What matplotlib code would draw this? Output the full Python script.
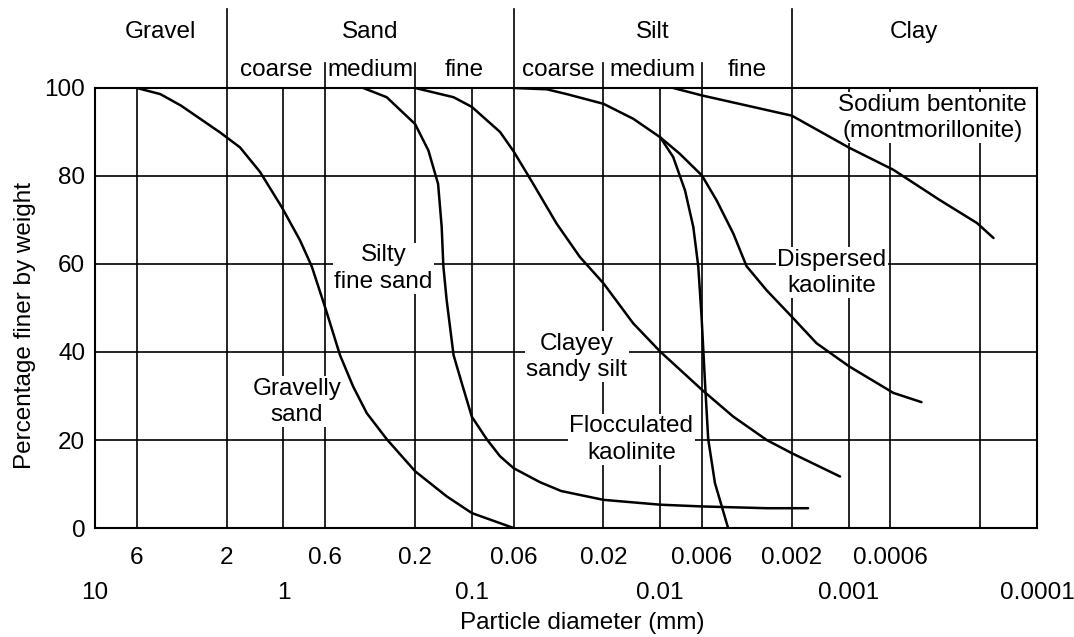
import matplotlib.pyplot as plt

plt.rcParams['font.family'] = ['Liberation Sans', 'DejaVu Sans']
plt.rcParams['font.size'] = 17.5

# axis ticks (particle diameter in mm, percent finer)
size_major = [10, 1, 0.1, 0.01, 0.001, 0.0001]
size_major_labels = ['10', '1', '0.1', '0.01', '0.001', '0.0001']
size_minor = [6, 2, 0.6, 0.2, 0.06, 0.02, 0.006, 0.002, 0.0006, 0.0002]
size_minor_labels = ['6', '2', '0.6', '0.2', '0.06', '0.02', '0.006', '0.002', '0.0006', '']
pct_ticks = [0, 20, 40, 60, 80, 100]

# soil classes along the top
classes = ['Gravel', 'Sand', 'Silt', 'Clay']
class_bounds = [10, 2, 0.06, 0.002, 0.0001]
sub_names = ['coarse', 'medium', 'fine', 'coarse', 'medium', 'fine']
sub_bounds = [2, 0.6, 0.2, 0.06, 0.02, 0.006, 0.002]

# grading curves
gravelly_d = [6, 4.5, 3.5, 2.17, 1.70, 1.33, 1.02, 0.817, 0.708, 0.594, 0.501, 0.426,
              0.361, 0.283, 0.2, 0.136, 0.1, 0.06]
gravelly_p = [100, 98.6, 96, 89.9, 86.5, 80.9, 72.9, 65.4, 59.5, 49.5, 39.3, 32.1,
              26.1, 20.2, 12.9, 7.2, 3.4, 0]

silty_d = [0.377, 0.283, 0.2, 0.170, 0.151, 0.1445, 0.1416, 0.136, 0.125, 0.113, 0.1,
           0.0834, 0.0708, 0.06, 0.0434, 0.0335, 0.02, 0.01, 0.006, 0.00272, 0.00164]
silty_p = [100, 97.9, 91.8, 85.8, 78.2, 68.4, 59.5, 51.8, 39.3, 32.9, 25.3,
           20.2, 16.3, 13.6, 10.4, 8.4, 6.4, 5.3, 4.9, 4.5, 4.5]

clayey_d = [0.2, 0.125, 0.1, 0.0708, 0.06, 0.0472, 0.0355, 0.0267, 0.02, 0.0139, 0.01,
            0.006, 0.00409, 0.00272, 0.002, 0.00111]
clayey_p = [100, 97.9, 95.7, 90, 85.6, 78.2, 69.2, 61.6, 55.6, 46.5, 40.1,
            31.4, 25.3, 20, 17, 11.7]

dispersed_d = [0.06, 0.04, 0.0313, 0.02, 0.0139, 0.01, 0.00785, 0.006, 0.00501, 0.00409,
               0.00348, 0.00272, 0.002, 0.00148, 0.00111, 0.00099, 0.000578, 0.00041]
dispersed_p = [100, 99.7, 98.6, 96.4, 93, 88.8, 85, 80.1, 74.4, 66.9,
               59.5, 54, 48, 42, 38.2, 36.7, 30.7, 28.6]

flocc_d = [0.01, 0.00853, 0.00738, 0.00667, 0.00628, 0.00603, 0.00578, 0.00556, 0.00512, 0.00436]
flocc_p = [88.8, 84.3, 76.7, 68.4, 59.5, 48, 32.9, 20.2, 10.2, 0]

bentonite_d = [0.00853, 0.006, 0.002, 0.00099, 0.000578, 0.00033, 0.000208, 0.00017]
bentonite_p = [100, 98.3, 93.7, 86.4, 81.4, 74.6, 69.3, 65.9]

curve_labels = ['Gravelly\nsand', 'Silty\nfine sand', 'Clayey\nsandy silt',
                'Flocculated\nkaolinite', 'Dispersed\nkaolinite',
                'Sodium bentonite\n(montmorillonite)']
label_d = [0.85, 0.295, 0.0277, 0.01422, 0.00123, 0.000357]
label_p = [28.7, 59, 38.9, 20.1, 58, 93.2]

fig = plt.figure(figsize=(10.74, 6.37), dpi=100)
ax = fig.add_axes([0.0885, 0.1711, 0.877, 0.6908])

ax.set_xscale('log')
ax.set_xlim(10, 0.0001)
ax.set_ylim(0, 100)
ax.set_xticks(size_major, size_major_labels)
ax.set_xticks(size_minor, size_minor_labels, minor=True)
ax.tick_params(axis='x', which='major', length=0, pad=39)
ax.tick_params(axis='x', which='minor', length=0, pad=14)
ax.set_yticks(pct_ticks)
ax.tick_params(axis='y', length=0, pad=7)
ax.grid(True, which='both', color='black', lw=1.2)
ax.set_axisbelow(True)
for s in ax.spines.values():
    s.set_linewidth(1.5)
    s.set_zorder(5)

for d, p in [(gravelly_d, gravelly_p), (silty_d, silty_p), (clayey_d, clayey_p),
             (dispersed_d, dispersed_p), (flocc_d, flocc_p), (bentonite_d, bentonite_p)]:
    ax.plot(d, p, color='black', lw=1.8, zorder=4,
            solid_joinstyle='round', solid_capstyle='round')

for s, x, y in zip(curve_labels, label_d, label_p):
    ax.text(x, y, s, ha='center', va='center', multialignment='center', linespacing=1.25,
            zorder=3, bbox=dict(facecolor='white', edgecolor='none', pad=1))

# class boundaries and names above the plot
tr = ax.get_xaxis_transform()
for b in class_bounds[1:-1]:
    ax.plot([b, b], [1, 1.18], transform=tr, clip_on=False, color='black', lw=1.2)
for b in [0.6, 0.2, 0.02, 0.006]:
    ax.plot([b, b], [1, 1.057], transform=tr, clip_on=False, color='black', lw=1.2)
for i, name in enumerate(classes):
    xc = (class_bounds[i] * class_bounds[i + 1]) ** 0.5
    ax.text(xc, 1.127, name, transform=tr, ha='center', va='center')
for i, name in enumerate(sub_names):
    xc = (sub_bounds[i] * sub_bounds[i + 1]) ** 0.5
    ax.text(xc, 1.041, name, transform=tr, ha='center', va='center')

ax.set_xlabel('Particle diameter (mm)')
ax.xaxis.set_label_coords(0.517, -0.19)
ax.set_ylabel('Percentage finer by weight')
ax.yaxis.set_label_coords(-0.063, 0.46)

fig.savefig('out.png', dpi=100)
